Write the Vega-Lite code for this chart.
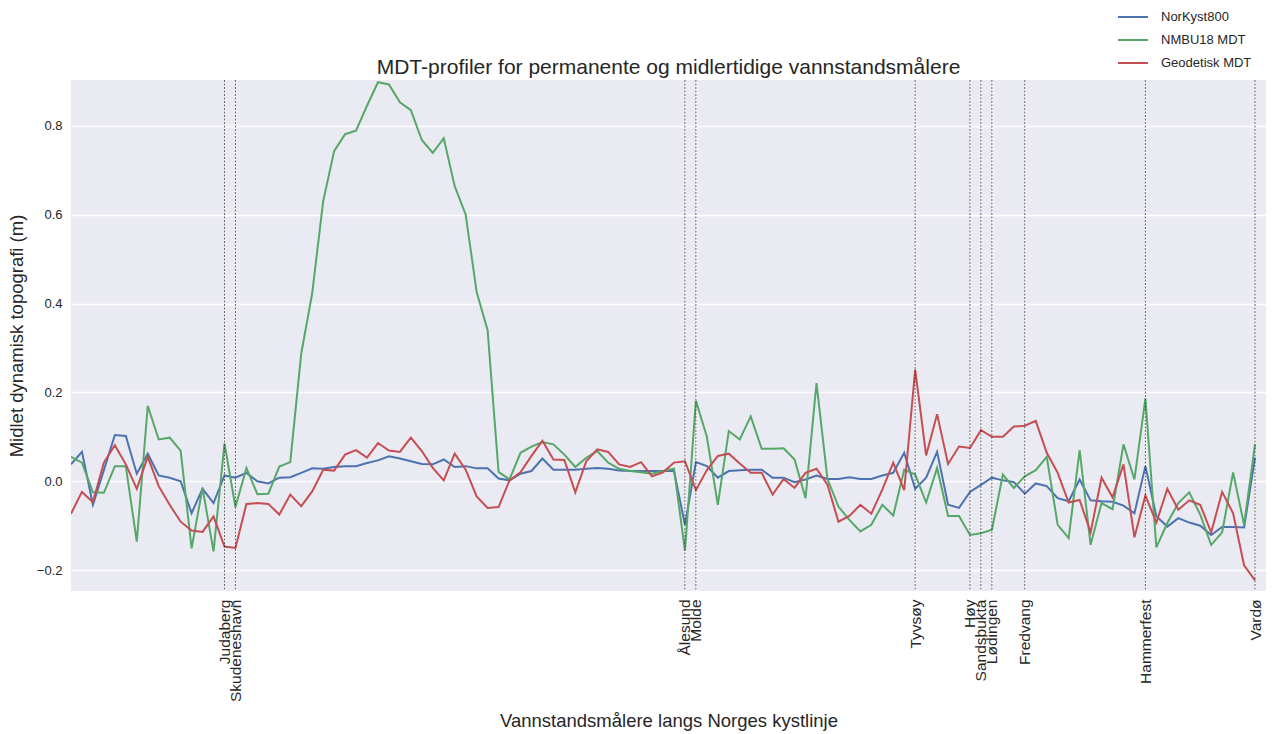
{
  "$schema": "https://vega.github.io/schema/vega-lite/v6.json",
  "autosize": {"type": "none"},
  "padding": {"left": 71, "top": 80, "right": 16, "bottom": 143},
  "width": 1195,
  "height": 511,
  "background": "white",
  "config": {
    "font": "Liberation Sans",
    "view": {"fill": "#EAEAF2", "stroke": null},
    "axis": {"domain": false, "ticks": false, "gridColor": "white", "gridWidth": 1.3, "gridOpacity": 1, "labelColor": "#262626", "titleColor": "#262626", "titleFontWeight": "normal"}
  },
  "title": {"text": "MDT-profiler for permanente og midlertidige vannstandsmålere", "fontSize": 21, "fontWeight": "normal", "color": "#262626", "offset": 6, "dy": 83},
  "datasets": {
    "profiles": [
      {"i":0,"NorKyst800":0.038,"NMBU18 MDT":0.055,"Geodetisk MDT":-0.073},
      {"i":1,"NorKyst800":0.066,"NMBU18 MDT":0.042,"Geodetisk MDT":-0.024},
      {"i":2,"NorKyst800":-0.053,"NMBU18 MDT":-0.025,"Geodetisk MDT":-0.047},
      {"i":3,"NorKyst800":0.025,"NMBU18 MDT":-0.026,"Geodetisk MDT":0.042},
      {"i":4,"NorKyst800":0.104,"NMBU18 MDT":0.034,"Geodetisk MDT":0.081},
      {"i":5,"NorKyst800":0.102,"NMBU18 MDT":0.034,"Geodetisk MDT":0.038},
      {"i":6,"NorKyst800":0.017,"NMBU18 MDT":-0.136,"Geodetisk MDT":-0.017},
      {"i":7,"NorKyst800":0.062,"NMBU18 MDT":0.170,"Geodetisk MDT":0.055},
      {"i":8,"NorKyst800":0.013,"NMBU18 MDT":0.094,"Geodetisk MDT":-0.011},
      {"i":9,"NorKyst800":0.008,"NMBU18 MDT":0.098,"Geodetisk MDT":-0.053},
      {"i":10,"NorKyst800":0.000,"NMBU18 MDT":0.069,"Geodetisk MDT":-0.091},
      {"i":11,"NorKyst800":-0.072,"NMBU18 MDT":-0.151,"Geodetisk MDT":-0.111},
      {"i":12,"NorKyst800":-0.017,"NMBU18 MDT":-0.015,"Geodetisk MDT":-0.114},
      {"i":13,"NorKyst800":-0.049,"NMBU18 MDT":-0.158,"Geodetisk MDT":-0.079},
      {"i":14,"NorKyst800":0.013,"NMBU18 MDT":0.085,"Geodetisk MDT":-0.147},
      {"i":15,"NorKyst800":0.008,"NMBU18 MDT":-0.058,"Geodetisk MDT":-0.150},
      {"i":16,"NorKyst800":0.019,"NMBU18 MDT":0.030,"Geodetisk MDT":-0.051},
      {"i":17,"NorKyst800":0.000,"NMBU18 MDT":-0.029,"Geodetisk MDT":-0.049},
      {"i":18,"NorKyst800":-0.005,"NMBU18 MDT":-0.028,"Geodetisk MDT":-0.051},
      {"i":19,"NorKyst800":0.008,"NMBU18 MDT":0.033,"Geodetisk MDT":-0.075},
      {"i":20,"NorKyst800":0.009,"NMBU18 MDT":0.043,"Geodetisk MDT":-0.030},
      {"i":21,"NorKyst800":0.019,"NMBU18 MDT":0.287,"Geodetisk MDT":-0.056},
      {"i":22,"NorKyst800":0.029,"NMBU18 MDT":0.423,"Geodetisk MDT":-0.023},
      {"i":23,"NorKyst800":0.028,"NMBU18 MDT":0.630,"Geodetisk MDT":0.026},
      {"i":24,"NorKyst800":0.032,"NMBU18 MDT":0.743,"Geodetisk MDT":0.024},
      {"i":25,"NorKyst800":0.034,"NMBU18 MDT":0.781,"Geodetisk MDT":0.060},
      {"i":26,"NorKyst800":0.034,"NMBU18 MDT":0.789,"Geodetisk MDT":0.070},
      {"i":27,"NorKyst800":0.041,"NMBU18 MDT":0.845,"Geodetisk MDT":0.053},
      {"i":28,"NorKyst800":0.047,"NMBU18 MDT":0.898,"Geodetisk MDT":0.086},
      {"i":29,"NorKyst800":0.056,"NMBU18 MDT":0.893,"Geodetisk MDT":0.069},
      {"i":30,"NorKyst800":0.051,"NMBU18 MDT":0.853,"Geodetisk MDT":0.066},
      {"i":31,"NorKyst800":0.045,"NMBU18 MDT":0.835,"Geodetisk MDT":0.098},
      {"i":32,"NorKyst800":0.039,"NMBU18 MDT":0.768,"Geodetisk MDT":0.068},
      {"i":33,"NorKyst800":0.038,"NMBU18 MDT":0.739,"Geodetisk MDT":0.030},
      {"i":34,"NorKyst800":0.049,"NMBU18 MDT":0.772,"Geodetisk MDT":0.002},
      {"i":35,"NorKyst800":0.032,"NMBU18 MDT":0.664,"Geodetisk MDT":0.062},
      {"i":36,"NorKyst800":0.034,"NMBU18 MDT":0.600,"Geodetisk MDT":0.026},
      {"i":37,"NorKyst800":0.029,"NMBU18 MDT":0.426,"Geodetisk MDT":-0.034},
      {"i":38,"NorKyst800":0.029,"NMBU18 MDT":0.340,"Geodetisk MDT":-0.060},
      {"i":39,"NorKyst800":0.006,"NMBU18 MDT":0.021,"Geodetisk MDT":-0.058},
      {"i":40,"NorKyst800":0.002,"NMBU18 MDT":0.004,"Geodetisk MDT":0.002},
      {"i":41,"NorKyst800":0.017,"NMBU18 MDT":0.064,"Geodetisk MDT":0.020},
      {"i":42,"NorKyst800":0.023,"NMBU18 MDT":0.078,"Geodetisk MDT":0.057},
      {"i":43,"NorKyst800":0.051,"NMBU18 MDT":0.088,"Geodetisk MDT":0.091},
      {"i":44,"NorKyst800":0.026,"NMBU18 MDT":0.083,"Geodetisk MDT":0.049},
      {"i":45,"NorKyst800":0.026,"NMBU18 MDT":0.060,"Geodetisk MDT":0.048},
      {"i":46,"NorKyst800":0.026,"NMBU18 MDT":0.032,"Geodetisk MDT":-0.025},
      {"i":47,"NorKyst800":0.028,"NMBU18 MDT":0.053,"Geodetisk MDT":0.045},
      {"i":48,"NorKyst800":0.030,"NMBU18 MDT":0.068,"Geodetisk MDT":0.072},
      {"i":49,"NorKyst800":0.028,"NMBU18 MDT":0.042,"Geodetisk MDT":0.066},
      {"i":50,"NorKyst800":0.024,"NMBU18 MDT":0.028,"Geodetisk MDT":0.038},
      {"i":51,"NorKyst800":0.023,"NMBU18 MDT":0.023,"Geodetisk MDT":0.032},
      {"i":52,"NorKyst800":0.023,"NMBU18 MDT":0.020,"Geodetisk MDT":0.043},
      {"i":53,"NorKyst800":0.023,"NMBU18 MDT":0.017,"Geodetisk MDT":0.011},
      {"i":54,"NorKyst800":0.023,"NMBU18 MDT":0.023,"Geodetisk MDT":0.020},
      {"i":55,"NorKyst800":0.023,"NMBU18 MDT":0.028,"Geodetisk MDT":0.042},
      {"i":56,"NorKyst800":-0.098,"NMBU18 MDT":-0.156,"Geodetisk MDT":0.045},
      {"i":57,"NorKyst800":0.043,"NMBU18 MDT":0.181,"Geodetisk MDT":-0.020},
      {"i":58,"NorKyst800":0.034,"NMBU18 MDT":0.100,"Geodetisk MDT":0.025},
      {"i":59,"NorKyst800":0.008,"NMBU18 MDT":-0.053,"Geodetisk MDT":0.057},
      {"i":60,"NorKyst800":0.023,"NMBU18 MDT":0.113,"Geodetisk MDT":0.062},
      {"i":61,"NorKyst800":0.025,"NMBU18 MDT":0.094,"Geodetisk MDT":0.040},
      {"i":62,"NorKyst800":0.026,"NMBU18 MDT":0.146,"Geodetisk MDT":0.019},
      {"i":63,"NorKyst800":0.026,"NMBU18 MDT":0.073,"Geodetisk MDT":0.019},
      {"i":64,"NorKyst800":0.008,"NMBU18 MDT":0.073,"Geodetisk MDT":-0.030},
      {"i":65,"NorKyst800":0.008,"NMBU18 MDT":0.074,"Geodetisk MDT":0.005},
      {"i":66,"NorKyst800":-0.002,"NMBU18 MDT":0.049,"Geodetisk MDT":-0.015},
      {"i":67,"NorKyst800":0.004,"NMBU18 MDT":-0.038,"Geodetisk MDT":0.019},
      {"i":68,"NorKyst800":0.013,"NMBU18 MDT":0.221,"Geodetisk MDT":0.028},
      {"i":69,"NorKyst800":0.005,"NMBU18 MDT":0.005,"Geodetisk MDT":-0.008},
      {"i":70,"NorKyst800":0.005,"NMBU18 MDT":-0.057,"Geodetisk MDT":-0.091},
      {"i":71,"NorKyst800":0.009,"NMBU18 MDT":-0.087,"Geodetisk MDT":-0.078},
      {"i":72,"NorKyst800":0.005,"NMBU18 MDT":-0.113,"Geodetisk MDT":-0.053},
      {"i":73,"NorKyst800":0.005,"NMBU18 MDT":-0.098,"Geodetisk MDT":-0.073},
      {"i":74,"NorKyst800":0.013,"NMBU18 MDT":-0.053,"Geodetisk MDT":-0.019},
      {"i":75,"NorKyst800":0.019,"NMBU18 MDT":-0.077,"Geodetisk MDT":0.042},
      {"i":76,"NorKyst800":0.064,"NMBU18 MDT":0.026,"Geodetisk MDT":-0.020},
      {"i":77,"NorKyst800":-0.017,"NMBU18 MDT":0.015,"Geodetisk MDT":0.251},
      {"i":78,"NorKyst800":0.008,"NMBU18 MDT":-0.048,"Geodetisk MDT":0.058},
      {"i":79,"NorKyst800":0.066,"NMBU18 MDT":0.030,"Geodetisk MDT":0.151},
      {"i":80,"NorKyst800":-0.053,"NMBU18 MDT":-0.078,"Geodetisk MDT":0.039},
      {"i":81,"NorKyst800":-0.060,"NMBU18 MDT":-0.078,"Geodetisk MDT":0.078},
      {"i":82,"NorKyst800":-0.024,"NMBU18 MDT":-0.121,"Geodetisk MDT":0.075},
      {"i":83,"NorKyst800":-0.008,"NMBU18 MDT":-0.117,"Geodetisk MDT":0.115},
      {"i":84,"NorKyst800":0.008,"NMBU18 MDT":-0.109,"Geodetisk MDT":0.100},
      {"i":85,"NorKyst800":0.002,"NMBU18 MDT":0.015,"Geodetisk MDT":0.100},
      {"i":86,"NorKyst800":-0.002,"NMBU18 MDT":-0.015,"Geodetisk MDT":0.123},
      {"i":87,"NorKyst800":-0.028,"NMBU18 MDT":0.011,"Geodetisk MDT":0.125},
      {"i":88,"NorKyst800":-0.005,"NMBU18 MDT":0.025,"Geodetisk MDT":0.136},
      {"i":89,"NorKyst800":-0.011,"NMBU18 MDT":0.055,"Geodetisk MDT":0.064},
      {"i":90,"NorKyst800":-0.038,"NMBU18 MDT":-0.098,"Geodetisk MDT":0.019},
      {"i":91,"NorKyst800":-0.045,"NMBU18 MDT":-0.128,"Geodetisk MDT":-0.048},
      {"i":92,"NorKyst800":0.004,"NMBU18 MDT":0.070,"Geodetisk MDT":-0.042},
      {"i":93,"NorKyst800":-0.043,"NMBU18 MDT":-0.143,"Geodetisk MDT":-0.115},
      {"i":94,"NorKyst800":-0.045,"NMBU18 MDT":-0.049,"Geodetisk MDT":0.008},
      {"i":95,"NorKyst800":-0.046,"NMBU18 MDT":-0.063,"Geodetisk MDT":-0.036},
      {"i":96,"NorKyst800":-0.055,"NMBU18 MDT":0.083,"Geodetisk MDT":0.038},
      {"i":97,"NorKyst800":-0.072,"NMBU18 MDT":0.004,"Geodetisk MDT":-0.126},
      {"i":98,"NorKyst800":0.034,"NMBU18 MDT":0.186,"Geodetisk MDT":-0.032},
      {"i":99,"NorKyst800":-0.079,"NMBU18 MDT":-0.149,"Geodetisk MDT":-0.093},
      {"i":100,"NorKyst800":-0.102,"NMBU18 MDT":-0.094,"Geodetisk MDT":-0.017},
      {"i":101,"NorKyst800":-0.083,"NMBU18 MDT":-0.049,"Geodetisk MDT":-0.064},
      {"i":102,"NorKyst800":-0.093,"NMBU18 MDT":-0.025,"Geodetisk MDT":-0.043},
      {"i":103,"NorKyst800":-0.100,"NMBU18 MDT":-0.075,"Geodetisk MDT":-0.053},
      {"i":104,"NorKyst800":-0.121,"NMBU18 MDT":-0.143,"Geodetisk MDT":-0.115},
      {"i":105,"NorKyst800":-0.103,"NMBU18 MDT":-0.115,"Geodetisk MDT":-0.024},
      {"i":106,"NorKyst800":-0.103,"NMBU18 MDT":0.020,"Geodetisk MDT":-0.072},
      {"i":107,"NorKyst800":-0.104,"NMBU18 MDT":-0.098,"Geodetisk MDT":-0.189},
      {"i":108,"NorKyst800":0.053,"NMBU18 MDT":0.083,"Geodetisk MDT":-0.223}
    ],
    "stations": [
      {"i":14,"name":"Judaberg"},
      {"i":15,"name":"Skudeneshavn"},
      {"i":56,"name":"Ålesund"},
      {"i":57,"name":"Molde"},
      {"i":77,"name":"Tyvsøy"},
      {"i":82,"name":"Høy"},
      {"i":83,"name":"Sandsbukta"},
      {"i":84,"name":"Lødingen"},
      {"i":87,"name":"Fredvang"},
      {"i":98,"name":"Hammerfest"},
      {"i":108,"name":"Vardø"}
    ]
  },
  "layer": [
    {
      "data": {"name": "profiles"},
      "transform": [{"fold": ["NorKyst800", "NMBU18 MDT", "Geodetisk MDT"], "as": ["serie", "mdt"]}],
      "mark": {"type": "line", "strokeWidth": 2, "clip": true},
      "encoding": {
        "x": {
          "field": "i", "type": "quantitative",
          "scale": {"domain": [0, 109], "nice": false, "zero": false},
          "axis": {
            "values": [14, 15, 56, 57, 77, 82, 83, 84, 87, 98, 108],
            "labelExpr": "datum.value==14?'Judaberg':datum.value==15?'Skudeneshavn':datum.value==56?'Ålesund':datum.value==57?'Molde':datum.value==77?'Tyvsøy':datum.value==82?'Høy':datum.value==83?'Sandsbukta':datum.value==84?'Lødingen':datum.value==87?'Fredvang':datum.value==98?'Hammerfest':'Vardø'",
            "labelAngle": -90,
            "labelFontSize": 15.5,
            "labelPadding": 8,
            "labelOverlap": false,
            "labelBound": false,
            "labelFlush": false,
            "title": "Vannstandsmålere langs Norges kystlinje",
            "titleFontSize": 18.5,
            "titleY": 120,
            "titleBaseline": "top"
          }
        },
        "y": {
          "field": "mdt", "type": "quantitative",
          "scale": {"domain": [-0.247, 0.903], "nice": false, "zero": false},
          "axis": {
            "values": [-0.2, 0, 0.2, 0.4, 0.6, 0.8],
            "format": ".1f",
            "labelFontSize": 13,
            "labelPadding": 9,
            "title": "Midlet dynamisk topografi (m)",
            "titleFontSize": 18.5,
            "titlePadding": 10
          }
        },
        "color": {
          "field": "serie", "type": "nominal",
          "scale": {"domain": ["NorKyst800", "NMBU18 MDT", "Geodetisk MDT"], "range": ["#4C72B0", "#55A868", "#C44E52"]},
          "legend": {
            "title": null,
            "orient": "none",
            "legendX": 1046,
            "legendY": -79,
            "symbolType": "stroke",
            "symbolSize": 900,
            "symbolStrokeWidth": 2,
            "labelFontSize": 13,
            "labelColor": "#262626",
            "labelOffset": 12,
            "rowPadding": -9
          }
        }
      }
    },
    {
      "data": {"name": "stations"},
      "mark": {"type": "rule", "color": "#333333", "strokeWidth": 0.9, "strokeDash": [2, 1.5], "opacity": 0.85},
      "encoding": {
        "x": {"field": "i", "type": "quantitative"}
      }
    }
  ]
}
